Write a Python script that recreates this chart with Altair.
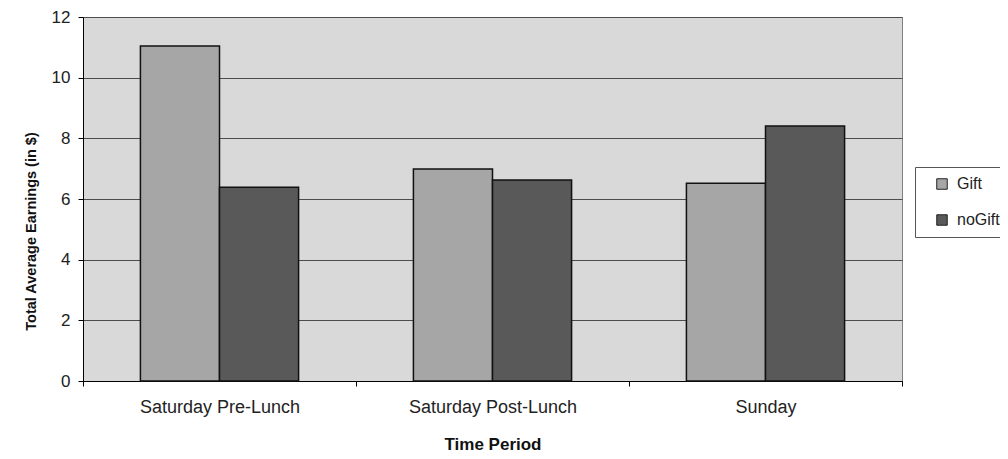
import altair as alt
import pandas as pd

periods = ["Saturday Pre-Lunch", "Saturday Post-Lunch", "Sunday"]
gift = [11.04, 6.99, 6.52]
nogift = [6.39, 6.63, 8.41]
groups = ["Gift", "noGift"]
colors = ["#a6a6a6", "#595959"]
y_ticks = [0, 2, 4, 6, 8, 10, 12]

rows = []
for p, g, n in zip(periods, gift, nogift):
    rows.append({"period": p, "group": "Gift", "value": g})
    rows.append({"period": p, "group": "noGift", "value": n})
df = pd.DataFrame(rows)

font = "Liberation Sans"

chart = alt.Chart(df).mark_bar(stroke="#111111", strokeWidth=1.5).encode(
    x=alt.X("period:N", sort=periods,
            scale=alt.Scale(paddingInner=0, paddingOuter=0),
            axis=alt.Axis(title="Time Period", labelAngle=0, tickBand="extent",
                          domainColor="#000000", tickColor="#000000", tickSize=5,
                          labelPadding=12, labelFontSize=18, labelColor="#222222",
                          titleFontSize=17, titleFontWeight="bold", titlePadding=20,
                          titleColor="#111111", grid=False)),
    xOffset=alt.XOffset("group:N", sort=groups,
                        scale=alt.Scale(paddingInner=0, paddingOuter=0.726)),
    y=alt.Y("value:Q", scale=alt.Scale(domain=[0, 12], nice=False),
            axis=alt.Axis(title="Total Average Earnings (in $)", values=y_ticks,
                          domainColor="#000000", tickColor="#000000", tickSize=5,
                          labelPadding=8, labelFontSize=17, labelColor="#222222",
                          titleFontSize=14.5, titleFontWeight="bold", titlePadding=13,
                          titleColor="#111111", titleY=214,
                          grid=True, gridColor="#4d4d4d", gridWidth=1)),
    color=alt.Color("group:N", sort=groups,
                    scale=alt.Scale(domain=groups, range=colors),
                    legend=alt.Legend(title=None, orient="none", legendX=832, legendY=150,
                                      symbolType="square", symbolSize=110,
                                      symbolStrokeColor="#222222", symbolStrokeWidth=1,
                                      symbolOffset=10,
                                      labelFontSize=16, labelColor="#222222",
                                      strokeColor="#555555", padding=9,
                                      rowPadding=20, labelOffset=7)),
).properties(
    width=819, height=364,
    autosize=alt.AutoSizeParams(type="none"),
    padding={"left": 75, "top": 9, "right": 98, "bottom": 78},
).configure(font=font).configure_view(
    fill="#d9d9d9", stroke="#808080", strokeWidth=1
)

chart.save("out.html", embed_options={"renderer": "svg", "actions": False})
